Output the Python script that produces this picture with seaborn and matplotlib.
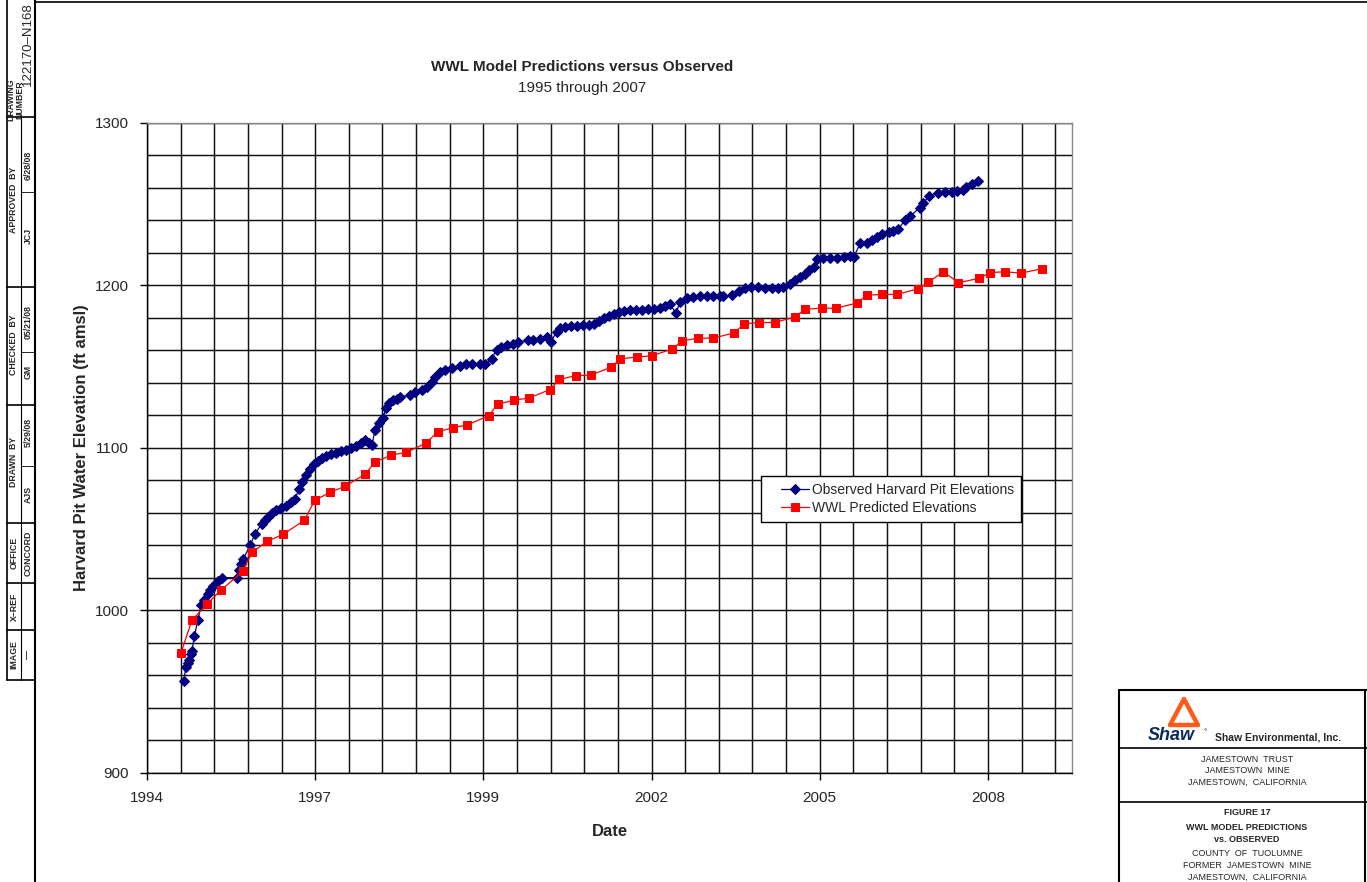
import numpy as np
import pandas as pd
import matplotlib
matplotlib.use("Agg")
import matplotlib.pyplot as plt
import matplotlib.dates as mdates
from matplotlib.ticker import MultipleLocator
from matplotlib.lines import Line2D
from matplotlib.patches import Polygon
from matplotlib.legend_handler import HandlerLine2D
import seaborn as sns

# ---------------- data (decimal year, elevation ft amsl) ----------------
obs_year = [1995.05, 1995.08, 1995.11, 1995.13, 1995.16, 1995.18, 1995.22, 1995.28, 1995.33, 1995.38,
            1995.44, 1995.48, 1995.53, 1995.61, 1995.67, 1995.91, 1995.94, 1995.98, 1996.02, 1996.13,
            1996.21, 1996.32, 1996.37, 1996.42, 1996.49, 1996.55, 1996.63, 1996.71, 1996.79, 1996.86,
            1996.92, 1996.97, 1997.04, 1997.10, 1997.17, 1997.23, 1997.30, 1997.36, 1997.45, 1997.53,
            1997.61, 1997.69, 1997.77, 1997.85, 1997.93, 1998.00, 1998.06, 1998.11, 1998.16, 1998.23,
            1998.29, 1998.34, 1998.39, 1998.45, 1998.52, 1998.57, 1998.73, 1998.81, 1998.92, 1999.00,
            1999.09, 1999.14, 1999.22, 1999.30, 1999.41, 1999.55, 1999.65, 1999.74, 1999.87, 1999.95,
            2000.06, 2000.14, 2000.22, 2000.31, 2000.41, 2000.49, 2000.66, 2000.74, 2000.85, 2000.96,
            2001.02, 2001.12, 2001.17, 2001.26, 2001.35, 2001.45, 2001.55, 2001.65, 2001.73, 2001.81,
            2001.89, 2001.97, 2002.05, 2002.13, 2002.22, 2002.31, 2002.41, 2002.51, 2002.61, 2002.70,
            2002.80, 2002.88, 2002.96, 2003.06, 2003.13, 2003.24, 2003.34, 2003.45, 2003.56, 2003.67,
            2003.78, 2003.83, 2003.97, 2004.08, 2004.19, 2004.29, 2004.40, 2004.51, 2004.62, 2004.73,
            2004.81, 2004.92, 2005.00, 2005.08, 2005.16, 2005.22, 2005.30, 2005.35, 2005.46, 2005.57,
            2005.68, 2005.79, 2005.89, 2005.95, 2006.06, 2006.17, 2006.25, 2006.33, 2006.41, 2006.52,
            2006.60, 2006.68, 2006.79, 2006.87, 2007.03, 2007.09, 2007.18, 2007.32, 2007.44, 2007.55,
            2007.64, 2007.73, 2007.78, 2007.88, 2007.97]
obs_elev = [956.3, 965.1, 967.6, 969.7, 973.4, 975.0, 984.0, 994.3, 1003.1, 1006.2,
            1010.3, 1012.7, 1015.0, 1017.8, 1020.1, 1020.1, 1024.6, 1028.7, 1031.8, 1040.0,
            1047.2, 1053.3, 1055.4, 1057.2, 1059.7, 1061.5, 1062.8, 1064.0, 1066.5, 1068.3,
            1074.5, 1078.8, 1083.1, 1086.8, 1089.8, 1091.7, 1093.5, 1094.8, 1096.0, 1096.6,
            1097.8, 1098.5, 1099.7, 1100.9, 1102.8, 1104.6, 1102.8, 1101.5, 1110.8, 1115.1,
            1118.2, 1124.3, 1127.4, 1129.2, 1129.8, 1131.3, 1132.3, 1134.3, 1135.8, 1137.4,
            1140.5, 1143.6, 1146.3, 1147.7, 1149.1, 1150.2, 1151.2, 1151.8, 1151.2, 1151.8,
            1154.3, 1160.4, 1162.0, 1163.1, 1164.1, 1165.1, 1166.2, 1166.2, 1166.6, 1167.8,
            1165.1, 1171.3, 1173.5, 1174.2, 1174.8, 1174.8, 1175.4, 1175.4, 1176.0, 1177.8,
            1179.7, 1180.9, 1182.2, 1183.4, 1184.0, 1184.6, 1184.6, 1184.6, 1185.2, 1185.2,
            1185.8, 1187.1, 1188.3, 1182.8, 1189.7, 1191.8, 1192.8, 1193.2, 1193.4, 1193.4,
            1193.4, 1193.2, 1193.8, 1196.5, 1198.0, 1198.6, 1198.6, 1198.3, 1198.3, 1198.3,
            1199.0, 1200.4, 1203.1, 1204.7, 1206.6, 1209.2, 1211.3, 1216.0, 1216.4, 1216.4,
            1216.4, 1217.0, 1217.8, 1217.0, 1225.7, 1226.0, 1227.7, 1229.7, 1231.4, 1232.8,
            1233.0, 1234.6, 1240.0, 1242.3, 1247.6, 1250.3, 1255.1, 1256.6, 1257.1, 1257.4,
            1257.7, 1258.8, 1260.5, 1262.2, 1264.0]

pred_year = [1995.00, 1995.18, 1995.42, 1995.65, 1996.01, 1996.16, 1996.41, 1996.67, 1997.01, 1997.18,
             1997.43, 1997.67, 1998.00, 1998.16, 1998.42, 1998.67, 1998.99, 1999.18, 1999.43, 1999.66,
             2000.01, 2000.16, 2000.42, 2000.67, 2001.01, 2001.16, 2001.43, 2001.67, 2002.00, 2002.15,
             2002.43, 2002.67, 2003.00, 2003.16, 2003.42, 2003.66, 2004.01, 2004.17, 2004.41, 2004.67,
             2005.00, 2005.16, 2005.43, 2005.66, 2006.00, 2006.17, 2006.42, 2006.66, 2007.00, 2007.17,
             2007.41, 2007.66, 2008.00, 2008.17, 2008.41, 2008.68, 2009.01]
pred_elev = [973.5, 993.8, 1003.7, 1012.3, 1024.0, 1035.7, 1042.5, 1046.8, 1055.4, 1067.7,
             1072.6, 1076.3, 1083.7, 1091.1, 1095.4, 1097.2, 1102.8, 1109.7, 1112.4, 1114.0,
             1119.6, 1126.8, 1129.2, 1130.6, 1135.8, 1142.0, 1144.4, 1144.6, 1149.5, 1154.5,
             1155.9, 1156.5, 1160.8, 1165.7, 1167.4, 1167.4, 1170.6, 1176.2, 1177.0, 1177.0,
             1180.5, 1185.2, 1185.8, 1185.8, 1188.9, 1193.8, 1194.3, 1194.3, 1197.7, 1201.7,
             1208.3, 1201.5, 1204.2, 1207.7, 1208.2, 1207.4, 1210.0]

series_names = ["Observed Harvard Pit Elevations", "WWL Predicted Elevations"]
title_main = "WWL Model Predictions versus Observed"
title_sub = "1995 through 2007"
x_label = "Date"
y_label = "Harvard Pit Water Elevation (ft amsl)"


def to_dates(years):
    out = []
    for y in years:
        yi = int(np.floor(y))
        out.append(pd.Timestamp(year=yi, month=1, day=1) + pd.to_timedelta((y - yi) * 365.25, unit="D"))
    return out


df_obs = pd.DataFrame({"date": to_dates(obs_year), "elev": obs_elev})
df_pred = pd.DataFrame({"date": to_dates(pred_year), "elev": pred_elev})

# ---------------- figure ----------------
sns.set_theme(style="white")
plt.rcParams["font.family"] = ["Liberation Sans", "DejaVu Sans"]

W, H = 1367, 882
fig = plt.figure(figsize=(W / 100, H / 100), dpi=100)
fig.patch.set_facecolor("white")


def fx(px):
    return px / W


def fy(py):
    return 1 - py / H


ax = fig.add_axes([fx(147), fy(773), fx(1072) - fx(147), fy(122.5) - fy(773)])

sns.lineplot(data=df_obs, x="date", y="elev", ax=ax, color="#000080", marker="D", markersize=5.2,
             markeredgecolor="#000080", linewidth=0.9, sort=False, estimator=None,
             label=series_names[0])
sns.lineplot(data=df_pred, x="date", y="elev", ax=ax, color="#ff0000", marker="s", markersize=6.3,
             markeredgecolor="#ff0000", linewidth=0.9, sort=False, estimator=None,
             label=series_names[1])

xmin = mdates.date2num(pd.Timestamp("1994-06-14"))
ax.set_xlim(xmin, xmin + 5500)
ax.set_ylim(900, 1300)
ax.xaxis.set_major_locator(MultipleLocator(1000, offset=xmin % 1000))
ax.xaxis.set_minor_locator(MultipleLocator(200, offset=xmin % 200))
ax.xaxis.set_major_formatter(mdates.DateFormatter("%Y"))
ax.yaxis.set_major_locator(MultipleLocator(100))
ax.yaxis.set_minor_locator(MultipleLocator(20))

ax.grid(which="both", color="#111111", linewidth=1.05)
ax.set_axisbelow(True)
ax.tick_params(axis="both", which="major", direction="out", length=5, width=1, color="black",
               labelsize=11, pad=8, left=True, bottom=True)
ax.tick_params(axis="both", which="minor", length=0)
for s in ["left", "bottom"]:
    ax.spines[s].set_color("black")
    ax.spines[s].set_linewidth(1.0)
for s in ["top", "right"]:
    ax.spines[s].set_color("#888888")
    ax.spines[s].set_linewidth(1.0)

ax.set_xlabel(x_label, fontsize=12, fontweight="bold", labelpad=14)
ax.set_ylabel(y_label, fontsize=12, fontweight="bold", labelpad=4)

handles, labels = ax.get_legend_handles_labels()
leg = ax.legend(handles, labels, loc="upper left", bbox_to_anchor=(fx(761), fy(476)),
                bbox_transform=fig.transFigure, fontsize=10, frameon=True, fancybox=False,
                framealpha=1, edgecolor="black", handlelength=2.95, borderpad=0.5,
                labelspacing=0.3, handletextpad=0.25, borderaxespad=0,
                handler_map={h: HandlerLine2D(xpad=0.95) for h in handles})
leg.get_frame().set_linewidth(1.0)

fig.text(fx(582), fy(67), title_main, ha="center", va="center", fontsize=11, fontweight="bold")
fig.text(fx(582), fy(88), title_sub, ha="center", va="center", fontsize=11)

# ---------------- drawing frame ----------------
def fline(x0, y0, x1, y1, lw=1.2, color="black"):
    fig.add_artist(Line2D([fx(x0), fx(x1)], [fy(y0), fy(y1)], color=color, linewidth=lw))


SX = 35
fline(SX, 0, SX, H, lw=1.5)
fline(SX, 2, W, 2, lw=1.2)

# left title strip
fline(7, 0, 7, 680, lw=1.2)
fline(7, 680, SX, 680, lw=1.2)
bounds = [0, 117, 287, 405, 523, 583, 630, 680]
for b in bounds[1:-1]:
    fline(7, b, SX, b, lw=1.2)
for a, b in zip(bounds[1:-1], bounds[2:]):
    fline(21, a, 21, b, lw=0.8)

small = dict(rotation=90, ha="center", va="center", fontsize=6.3, fontweight="bold")
fig.text(fx(15), fy(100), "DRAWING\nNUMBER", linespacing=1.0, **small)
fig.text(fx(28), fy(44), "122170\u2013N168", rotation=90, ha="center", va="center", fontsize=9.5)
fig.text(fx(14), fy(200), "APPROVED  BY", **small)
fig.text(fx(28), fy(236), "JCJ", **small)
fig.text(fx(28), fy(165), "6/28/08", **small)
fline(21, 192, SX, 192, lw=0.6)
fig.text(fx(14), fy(345), "CHECKED  BY", **small)
fig.text(fx(28), fy(372), "GM", **small)
fig.text(fx(28), fy(322), "05/21/08", **small)
fline(21, 352, SX, 352, lw=0.6)
fig.text(fx(14), fy(462), "DRAWN  BY", **small)
fig.text(fx(28), fy(494), "AJS", **small)
fig.text(fx(28), fy(432), "5/29/08", **small)
fline(21, 466, SX, 466, lw=0.6)
fig.text(fx(14), fy(553), "OFFICE", **small)
fig.text(fx(28), fy(553), "CONCORD", **small)
fig.text(fx(14), fy(607), "X\u2013REF", **small)
fig.text(fx(14), fy(655), "IMAGE", **small)
fig.text(fx(28), fy(655), "\u2014", **small)

# bottom-right title block
fline(1119, 690, 1119, H, lw=1.5)
fline(1119, 690, W, 690, lw=1.5)
fline(1365, 690, 1365, H, lw=1.5)
fline(1119, 748, W, 748, lw=1.2)
fline(1119, 802, W, 802, lw=1.2)
tri = Polygon([[fx(1184), fy(699)], [fx(1170), fy(725)], [fx(1198), fy(725)]], closed=True,
              fill=False, edgecolor="#ff5a1a", linewidth=3.2, joinstyle="round",
              transform=fig.transFigure)
fig.add_artist(tri)
fig.text(fx(1148), fy(735), "Shaw", ha="left", va="center", fontsize=13, fontweight="bold",
         style="italic", color="#0a2a5c")
fig.text(fx(1204), fy(733), "\u00b0", ha="left", va="center", fontsize=6, color="#0a2a5c")
fig.text(fx(1215), fy(737), "Shaw Environmental, Inc.", ha="left", va="center", fontsize=7.5,
         fontweight="bold")
block = dict(ha="center", va="center", fontsize=6.5)
cx = fx(1247)
fig.text(cx, fy(759), "JAMESTOWN  TRUST", **block)
fig.text(cx, fy(770.5), "JAMESTOWN  MINE", **block)
fig.text(cx, fy(782), "JAMESTOWN,  CALIFORNIA", **block)
fig.text(cx, fy(812.5), "FIGURE 17", fontweight="bold", **block)
fig.text(cx, fy(828), "WWL MODEL PREDICTIONS", fontweight="bold", **block)
fig.text(cx, fy(839.5), "vs. OBSERVED", fontweight="bold", **block)
fig.text(cx, fy(854), "COUNTY  OF  TUOLUMNE", **block)
fig.text(cx, fy(866), "FORMER  JAMESTOWN  MINE", **block)
fig.text(cx, fy(877), "JAMESTOWN,  CALIFORNIA", **block)

fig.savefig("out.png", dpi=100, facecolor="white")
